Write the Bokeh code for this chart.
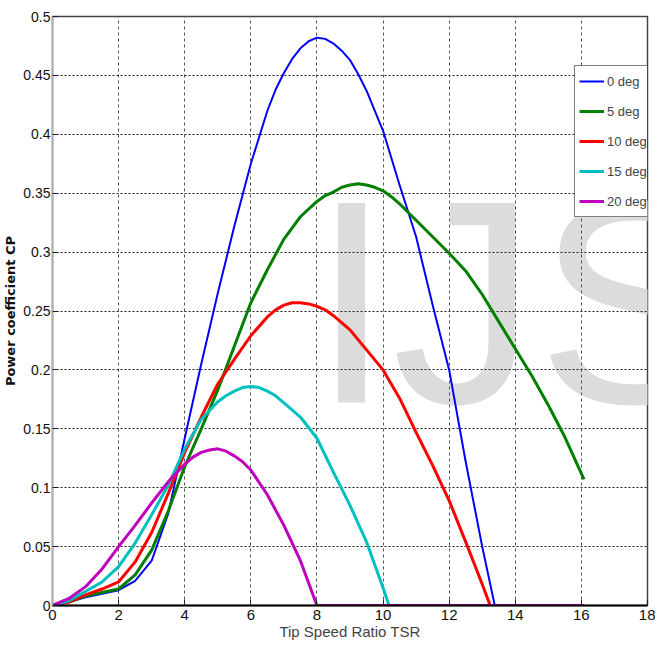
from bokeh.plotting import figure
from bokeh.models import Range1d, FixedTicker, Legend, LegendItem, Label
from bokeh.embed import file_html
from bokeh.resources import INLINE

# ---- data ----
tsr_0 = [0, 0.5, 1, 1.5, 2, 2.5, 3, 3.5, 4, 4.5, 5, 5.5, 6, 6.5, 6.75, 7, 7.25, 7.5, 7.75,
         8, 8.25, 8.5, 8.75, 9, 9.25, 9.5, 10, 10.5, 11, 11.5, 12, 12.5, 13, 13.38, 16.08]
cp_0 = [0, 0.003, 0.007, 0.010, 0.013, 0.021, 0.038, 0.078, 0.142, 0.205, 0.265, 0.322, 0.375,
        0.420, 0.438, 0.452, 0.464, 0.473, 0.479, 0.482, 0.481, 0.477, 0.471, 0.463, 0.451,
        0.437, 0.403, 0.357, 0.313, 0.255, 0.200, 0.122, 0.050, 0, 0]

tsr_5 = [0, 0.5, 1, 1.5, 2, 2.5, 3, 3.5, 4, 4.5, 5, 5.5, 6, 6.5, 7, 7.5, 8, 8.25, 8.5, 8.75,
         9, 9.25, 9.5, 9.75, 10, 10.25, 10.5, 11, 11.5, 12, 12.5, 13, 13.5, 14, 14.5, 15,
         15.5, 16, 16.08]
cp_5 = [0, 0.003, 0.008, 0.011, 0.014, 0.026, 0.047, 0.080, 0.118, 0.150, 0.183, 0.220, 0.257,
        0.285, 0.311, 0.330, 0.343, 0.348, 0.351, 0.355, 0.357, 0.358, 0.357, 0.355, 0.352,
        0.347, 0.341, 0.327, 0.313, 0.299, 0.284, 0.264, 0.241, 0.218, 0.195, 0.170, 0.143,
        0.112, 0.107]

tsr_10 = [0, 0.5, 1, 1.5, 2, 2.5, 3, 3.5, 4, 4.5, 5, 5.5, 6, 6.5, 6.75, 7, 7.25, 7.5, 7.75,
          8, 8.25, 8.5, 9, 9.5, 10, 10.5, 11, 11.5, 12, 12.5, 13, 13.24, 16.08]
cp_10 = [0, 0.003, 0.009, 0.014, 0.020, 0.037, 0.062, 0.095, 0.130, 0.160, 0.188, 0.209, 0.229,
         0.245, 0.251, 0.255, 0.257, 0.257, 0.256, 0.254, 0.251, 0.246, 0.234, 0.217, 0.200,
         0.176, 0.147, 0.119, 0.089, 0.054, 0.018, 0, 0]

tsr_15 = [0, 0.5, 1, 1.5, 2, 2.5, 3, 3.5, 4, 4.5, 5, 5.25, 5.5, 5.75, 6, 6.25, 6.5, 6.75, 7,
          7.5, 8, 8.5, 9, 9.5, 10, 10.18, 16.08]
cp_15 = [0, 0.004, 0.012, 0.020, 0.033, 0.053, 0.077, 0.102, 0.133, 0.158, 0.173, 0.178, 0.182,
         0.185, 0.186, 0.185, 0.182, 0.178, 0.172, 0.160, 0.142, 0.113, 0.085, 0.054, 0.015,
         0, 0]

tsr_20 = [0, 0.5, 1, 1.5, 2, 2.5, 3, 3.5, 4, 4.25, 4.5, 4.75, 5, 5.25, 5.5, 5.75, 6, 6.5, 7,
          7.5, 8, 16.08]
cp_20 = [0, 0.006, 0.016, 0.031, 0.050, 0.068, 0.087, 0.105, 0.120, 0.126, 0.130, 0.132, 0.133,
         0.131, 0.127, 0.122, 0.115, 0.094, 0.068, 0.038, 0, 0]

series_x = [tsr_0, tsr_5, tsr_10, tsr_15, tsr_20]
series_y = [cp_0, cp_5, cp_10, cp_15, cp_20]
legend_labels = ["0 deg", "5 deg", "10 deg", "15 deg", "20 deg"]
colors = ["#0000ff", "#007f00", "#ff0000", "#00bfbf", "#bf00bf"]
widths = [2, 3, 3, 3, 3]

x_ticks = [0, 2, 4, 6, 8, 10, 12, 14, 16, 18]
y_ticks = [0, 0.05, 0.1, 0.15, 0.2, 0.25, 0.3, 0.35, 0.4, 0.45, 0.5]
y_tick_labels = ["0", "0.05", "0.1", "0.15", "0.2", "0.25", "0.3", "0.35", "0.4", "0.45", "0.5"]

x_title = "Tip Speed Ratio TSR"
y_title = "Power coefficient CP"
watermark = "IJS"

FONT = "Liberation Sans"

p = figure(width=655, height=642, output_backend="svg", toolbar_location=None,
           x_range=Range1d(0, 18), y_range=Range1d(0, 0.5),
           min_border_left=47, min_border_right=8, min_border_top=16, min_border_bottom=0)
p.outline_line_color = "#444444"
p.outline_line_width = 1.5
p.background_fill_color = "white"
p.border_fill_color = "white"

# watermark under the grid
wm = Label(x=7.83, y=0.258, text=watermark, text_font=FONT,
           text_font_size="290px", text_color="#dcdcdc", text_baseline="middle",
           level="image")
p.add_layout(wm)

# axes
p.xaxis.ticker = FixedTicker(ticks=x_ticks)
p.yaxis.ticker = FixedTicker(ticks=y_ticks)
p.yaxis.major_label_overrides = {v: s for v, s in zip(y_ticks, y_tick_labels)}
for ax in (p.xaxis[0], p.yaxis[0]):
    ax.major_tick_in = 6
    ax.major_tick_out = 0
    ax.minor_tick_line_color = None
    ax.major_tick_line_color = "#222222"
    ax.major_label_text_font = FONT
    ax.major_label_text_color = "#111111"
p.xaxis.major_label_text_font_size = "15px"
p.yaxis.major_label_text_font_size = "14px"
p.xaxis.axis_line_color = "black"
p.xaxis.axis_line_width = 2
p.yaxis.axis_line_color = "#b0b0b0"
p.yaxis.axis_line_width = 1.5
p.xaxis.major_label_standoff = 4
p.yaxis.major_label_standoff = 2

p.xaxis.axis_label = x_title
p.xaxis.axis_label_text_font = FONT
p.xaxis.axis_label_text_font_size = "15px"
p.xaxis.axis_label_text_font_style = "normal"
p.xaxis.axis_label_standoff = 0

p.yaxis.axis_label = y_title
p.yaxis.axis_label_text_font = "DejaVu Sans"
p.yaxis.axis_label_text_font_size = "13px"
p.yaxis.axis_label_text_font_style = "bold"
p.yaxis.axis_label_text_color = "#111111"
p.yaxis.axis_label_standoff = 2

# grids
p.xgrid.grid_line_color = "#555555"
p.xgrid.grid_line_dash = "3 3"
p.xgrid.grid_line_width = 1
p.ygrid.grid_line_color = "#222222"
p.ygrid.grid_line_dash = "2 2"
p.ygrid.grid_line_width = 1

items = []
for xs, ys, c, w, lab in zip(series_x, series_y, colors, widths, legend_labels):
    r = p.line(xs, ys, line_color=c, line_width=w, line_join="round")
    items.append(LegendItem(label=lab, renderers=[r]))

legend = Legend(items=items, location=(522, 388), glyph_width=25, glyph_height=22,
                label_height=22, spacing=8, padding=4, margin=0, label_standoff=3,
                label_text_font=FONT, label_text_font_size="13px",
                border_line_color="black", border_line_width=1,
                background_fill_color="white", background_fill_alpha=1)
p.add_layout(legend, "center")

open("out.html", "w").write(file_html(p, INLINE))
